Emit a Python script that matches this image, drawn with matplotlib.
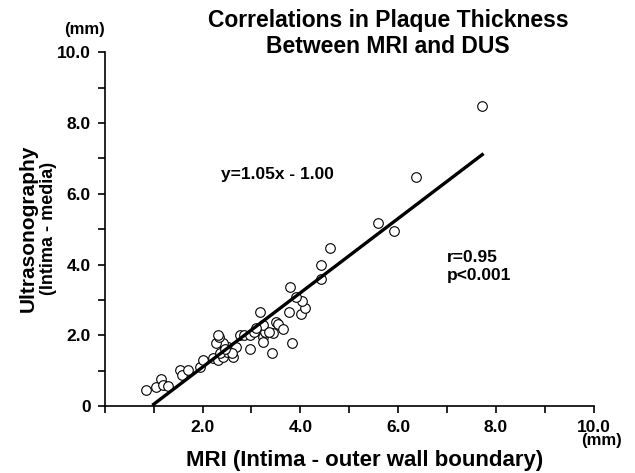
import numpy as np
import matplotlib.pyplot as plt

plt.rcParams['font.family'] = ['Liberation Sans', 'DejaVu Sans']
plt.rcParams['font.weight'] = 'bold'

# MRI thickness (mm) vs ultrasonography thickness (mm)
mri = [0.85, 1.04, 1.16, 1.19, 1.29, 1.53, 1.57, 1.70, 1.94, 2.01,
       2.21, 2.32, 2.42, 2.49, 2.52, 2.41, 2.28, 2.33, 2.32, 2.62,
       2.69, 2.76, 2.84, 2.96, 2.96, 3.05, 3.24, 3.24, 3.27, 3.44,
       3.24, 3.18, 3.51, 3.54, 3.65, 3.82, 3.42, 3.78, 3.77, 4.01,
       4.09, 4.03, 3.92, 4.42, 4.43, 4.60, 5.59, 5.91, 6.36, 7.72,
       2.35, 2.60, 2.45, 3.10, 3.35]
dus = [0.45, 0.53, 0.75, 0.59, 0.57, 1.02, 0.88, 1.02, 1.11, 1.30,
       1.35, 1.30, 1.39, 1.53, 1.68, 1.79, 1.77, 1.94, 2.00, 1.39,
       1.66, 2.00, 2.00, 2.00, 1.60, 2.10, 1.96, 1.82, 2.10, 2.05,
       2.29, 2.66, 2.38, 2.33, 2.17, 1.77, 1.49, 3.37, 2.66, 2.60,
       2.76, 2.97, 3.07, 3.58, 3.98, 4.48, 5.16, 4.95, 6.46, 8.47,
       1.50, 1.50, 1.60, 2.20, 2.10]

slope, intercept = 1.05, -1.00
fit_x = np.array([1.0, 7.72])

fig = plt.figure(figsize=(6.35, 4.73), dpi=100)
ax = fig.add_axes([0.165, 0.1416, 0.770, 0.748])

ax.scatter(mri, dus, s=48, facecolors='white', edgecolors='black', linewidths=0.8, zorder=2)
ax.plot(fit_x, slope * fit_x + intercept, color='black', lw=2.4, zorder=3)

ax.set_xlim(0, 10)
ax.set_ylim(0, 10)
for s in ['top', 'right']:
    ax.spines[s].set_visible(False)
ax.spines['left'].set_linewidth(1.2)
ax.spines['bottom'].set_linewidth(1.2)

ax.set_xticks(range(0, 11))
ax.set_xticklabels(['', '', '2.0', '', '4.0', '', '6.0', '', '8.0', '', '10.0'])
ax.set_yticks([0, 2, 4, 6, 8, 10])
ax.set_yticks(range(0, 11), minor=True)
ax.set_yticklabels(['0', '2.0', '4.0', '6.0', '8.0', '10.0'])
ax.tick_params(direction='out', length=5, width=1.2, labelsize=12.5, pad=5)
ax.tick_params(which='minor', direction='out', length=5, width=1.2)
for lab in ax.get_xticklabels() + ax.get_yticklabels():
    lab.set_fontweight('bold')

fig.text(0.575, 0.027, 'MRI (Intima - outer wall boundary)', fontsize=16, fontweight='bold',
         ha='center', va='center')
fig.text(0.044, 0.518, 'Ultrasonography', rotation=90, fontsize=15, fontweight='bold',
         ha='center', va='center')
fig.text(0.076, 0.518, '(Intima - media)', rotation=90, fontsize=13, fontweight='bold',
         ha='center', va='center')

fig.text(0.133, 0.937, '(mm)', fontsize=12, fontweight='bold', ha='center', va='center')
fig.text(0.947, 0.068, '(mm)', fontsize=12, fontweight='bold', ha='center', va='center')

fig.text(0.611, 0.929, 'Correlations in Plaque Thickness\nBetween MRI and DUS', fontsize=16.5,
         fontweight='bold', ha='center', va='center', linespacing=1.18)

ax.text(3.54, 6.55, 'y=1.05x - 1.00', fontsize=12.5, fontweight='bold', ha='center', va='center')
ax.text(6.99, 3.95, 'r=0.95\np<0.001', fontsize=12.5, fontweight='bold', ha='left', va='center',
        linespacing=1.27)

fig.savefig('out.png', dpi=100)
